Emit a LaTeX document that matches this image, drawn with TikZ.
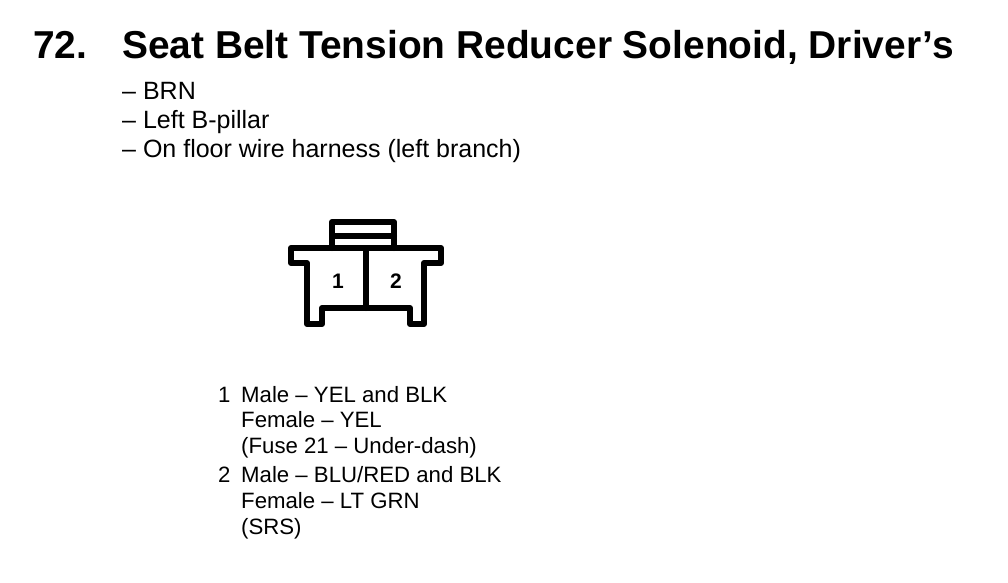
\documentclass[tikz,border=0pt]{standalone}
\usepackage{fontspec}
\setmainfont{Liberation Sans}
\tikzset{
  px/.style={x=1pt,y=-1pt},
  title/.style={anchor=base west,inner sep=0pt,font=\fontsize{38.9}{40}\selectfont\bfseries},
  sub/.style={anchor=base west,inner sep=0pt,font=\fontsize{25}{28}\selectfont},
  pin/.style={anchor=base,inner sep=0pt,font=\fontsize{21}{24}\selectfont\bfseries},
  body/.style={anchor=base west,inner sep=0pt,font=\fontsize{22.2}{26}\selectfont},
  conn/.style={draw=black,line width=6pt,line join=round,line cap=round}
}
\begin{document}
\begin{tikzpicture}[px]
\useasboundingbox (0,0) rectangle (1008,582);
\fill[white] (0,0) rectangle (1008,582);
\node[title] (num) at (33,58) {72.};
\node[title] (ttl) at (122,58) {Seat Belt Tension Reducer Solenoid, Driver’s};
\node[sub] (s1) at (122,99) {– BRN};
\node[sub] (s2) at (122,128) {– Left B-pillar};
\node[sub] (s3) at (122,157) {– On floor wire harness (left branch)};
\draw[conn] (291,263) -- (291,248) -- (441,248) -- (441,263) -- (424,263) -- (424,324) -- (410,324) -- (410,308) -- (322,308) -- (322,324) -- (307,324) -- (307,263) -- cycle;
\draw[conn] (332,248) -- (332,222) -- (394,222) -- (394,248);
\draw[conn] (332,236) -- (394,236);
\draw[conn] (366,248) -- (366,308);
\node[pin] (p1) at (338,288) {1};
\node[pin] (p2) at (396,288) {2};
\node[body] (n1) at (218,402) {1};
\node[body] (a1) at (241,402) {Male – YEL and BLK};
\node[body] (a2) at (241,427) {Female – YEL};
\node[body] (a3) at (241,453) {(Fuse 21 – Under-dash)};
\node[body] (n2) at (218,482) {2};
\node[body] (b1) at (241,482) {Male – BLU/RED and BLK};
\node[body] (b2) at (241,508) {Female – LT GRN};
\node[body] (b3) at (241,534) {(SRS)};
\end{tikzpicture}
\end{document}
